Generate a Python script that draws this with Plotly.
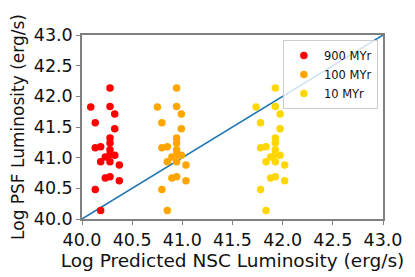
import plotly.graph_objects as go

# Data
red_x = [40.087, 40.279, 40.326, 40.132, 40.326, 40.279, 40.132, 40.186, 40.279, 40.279, 40.232,
         40.279, 40.326, 40.186, 40.279, 40.372, 40.232, 40.279, 40.372, 40.132, 40.186, 40.279]
red_y = [41.826, 41.835, 41.71, 41.57, 41.47, 41.32, 41.16, 41.18, 41.24, 41.13, 41.01,
         41.05, 41.04, 40.935, 40.935, 40.88, 40.67, 40.69, 40.625, 40.48, 40.14, 42.135]
orange_x = [40.751, 40.943, 40.990, 40.796, 40.990, 40.943, 40.796, 40.850, 40.943, 40.943, 40.896,
            40.943, 40.990, 40.850, 40.943, 41.036, 40.896, 40.943, 41.036, 40.796, 40.850, 40.943]
orange_y = red_y[:]
yellow_x = [41.735, 41.927, 41.974, 41.780, 41.974, 41.927, 41.780, 41.834, 41.927, 41.927, 41.880,
            41.927, 41.974, 41.834, 41.927, 42.020, 41.880, 41.927, 42.020, 41.780, 41.834, 41.927]
yellow_y = red_y[:]
line_x = [40.0, 43.0]
line_y = [40.0, 43.0]
tick_vals = [40.0, 40.5, 41.0, 41.5, 42.0, 42.5, 43.0]
tick_text = ["40.0", "40.5", "41.0", "41.5", "42.0", "42.5", "43.0"]

fig = go.Figure()
fig.add_trace(go.Scatter(x=line_x, y=line_y, mode="lines",
                         line=dict(color="#1f77b4", width=1.5), showlegend=False))
for name, xs, ys, col in [("900 MYr", red_x, red_y, "#ff0000"),
                          ("100 MYr", orange_x, orange_y, "#ffa500"),
                          ("10 MYr", yellow_x, yellow_y, "#ffd700")]:
    fig.add_trace(go.Scatter(x=xs, y=ys, mode="markers", name=name, legendgroup=name,
                             marker=dict(color=col, size=7.5, line=dict(width=0))))

axis_common = dict(
    range=[40, 43], tickvals=tick_vals, ticktext=tick_text,
    showgrid=False, zeroline=False, showline=True, mirror=True,
    linecolor="#808080", linewidth=1.5, ticks="outside", ticklen=4,
    tickcolor="#808080", tickfont=dict(size=17.5, color="#111111"),
    automargin=False,
)
fig.update_xaxes(**axis_common,
                 title=dict(text="Log Predicted NSC Luminosity (erg/s)",
                            font=dict(size=18.5, color="#111111"), standoff=4))
fig.update_yaxes(**axis_common,
                 title=dict(text="Log PSF Luminosity (erg/s)",
                            font=dict(size=17, color="#111111"), standoff=8))

fig.update_layout(
    width=407, height=269,
    margin=dict(l=74, r=32, t=27, b=58),
    plot_bgcolor="white", paper_bgcolor="white",
    font=dict(family="DejaVu Sans", color="#111111"),
    legend=dict(x=0.983, y=0.973, xanchor="right", yanchor="top",
                bgcolor="rgba(255,255,255,0.8)", bordercolor="#cccccc", borderwidth=1,
                font=dict(size=11.5), itemwidth=30, tracegroupgap=0),
)
fig.write_html("out.html")
